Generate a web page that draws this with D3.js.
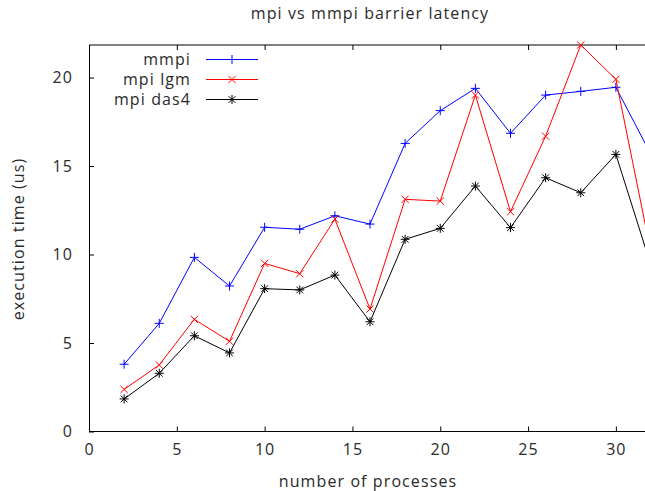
<!DOCTYPE html>
<html>
<head>
<meta charset="utf-8">
<script src="https://cdn.jsdelivr.net/npm/d3@7"></script>
<style>
  html, body { margin: 0; padding: 0; background: #fff; }
  svg { display: block; }
  text { font-family: "Open Sans", sans-serif; fill: #2a2a2a; letter-spacing: 1.1px; }
</style>
</head>
<body>
<svg id="chart" width="645" height="491"></svg>
<script>
// Process counts and barrier latencies (us)
const processes = [2, 4, 6, 8, 10, 12, 14, 16, 18, 20, 22, 24, 26, 28, 30, 32];
const mmpi    = [3.80, 6.11, 9.84, 8.22, 11.54, 11.43, 12.19, 11.72, 16.28, 18.13, 19.39, 16.85, 19.01, 19.22, 19.45, 15.65];
const mpiLgm  = [2.38, 3.76, 6.34, 5.10, 9.50, 8.92, 12.00, 6.92, 13.12, 13.02, 19.01, 12.42, 16.69, 21.84, 19.90, 10.10];
const mpiDas4 = [1.84, 3.29, 5.41, 4.44, 8.07, 8.00, 8.84, 6.20, 10.86, 11.48, 13.87, 11.52, 14.34, 13.49, 15.66, 9.37];
const xTicks = [0, 5, 10, 15, 20, 25, 30];
const yTicks = [0, 5, 10, 15, 20];

const series = [
  { name: "mmpi",     values: mmpi,    color: "#0000ff", marker: "plus" },
  { name: "mpi lgm",  values: mpiLgm,  color: "#ff0000", marker: "cross" },
  { name: "mpi das4", values: mpiDas4, color: "#000000", marker: "star" }
];

const FONT = "Open Sans, sans-serif";
const FS = "16px";

const svg = d3.select("#chart");
const plotLeft = 89, plotRight = 651, plotTop = 45, plotBottom = 431.5;

const x = d3.scaleLinear().domain([0, 32]).range([plotLeft, plotRight]);
const y = d3.scaleLinear().domain([0, d3.max(mpiLgm)]).range([plotBottom, plotTop]);

svg.append("defs").append("clipPath").attr("id", "plotClip")
  .append("rect").attr("x", plotLeft).attr("y", plotTop - 6)
  .attr("width", plotRight - plotLeft).attr("height", plotBottom - plotTop + 12);

// Axes: bottom and left with inward ticks, top border with mirrored ticks
const axisG = svg.append("g");
const xAxis = d3.axisBottom(x).tickValues(xTicks).tickSizeInner(-5).tickSizeOuter(0).tickPadding(12);
const gx = axisG.append("g").attr("transform", `translate(0,${plotBottom})`).call(xAxis);
const yAxis = d3.axisLeft(y).tickValues(yTicks).tickSizeInner(-5).tickSizeOuter(0).tickPadding(16);
const gy = axisG.append("g").attr("transform", `translate(${plotLeft},0)`).call(yAxis);
const xTop = d3.axisTop(x).tickValues(xTicks).tickSizeInner(-5).tickSizeOuter(0).tickFormat("");
const gt = axisG.append("g").attr("transform", `translate(0,${plotTop})`).call(xTop);

[gx, gy, gt].forEach(g => {
  g.select(".domain").attr("stroke", "#000").attr("stroke-width", 1);
  g.selectAll(".tick line").attr("stroke", "#000");
  g.selectAll(".tick text").style("font-size", FS).style("font-family", FONT).attr("fill", "#2a2a2a");
});
gx.select(".domain").attr("d", `M${plotLeft},0H645`);
gt.select(".domain").attr("d", `M${plotLeft},0H645`);

// Marker shapes
function markerPath(type, cx, cy, r) {
  const p = d3.path();
  if (type === "plus" || type === "star") {
    p.moveTo(cx - r, cy); p.lineTo(cx + r, cy);
    p.moveTo(cx, cy - r); p.lineTo(cx, cy + r);
  }
  if (type === "cross" || type === "star") {
    const d = type === "star" ? r * 0.75 : r * 0.8;
    p.moveTo(cx - d, cy - d); p.lineTo(cx + d, cy + d);
    p.moveTo(cx - d, cy + d); p.lineTo(cx + d, cy - d);
  }
  return p.toString();
}

const plot = svg.append("g").attr("clip-path", "url(#plotClip)");
const line = d3.line().x((d, i) => x(processes[i])).y(d => y(d));

series.forEach(s => {
  plot.append("path").attr("d", line(s.values))
    .attr("fill", "none").attr("stroke", s.color).attr("stroke-width", 1);
  plot.append("g").selectAll("path").data(s.values).join("path")
    .attr("d", (d, i) => markerPath(s.marker, x(processes[i]), y(d), 4.5))
    .attr("stroke", s.color).attr("stroke-width", 1).attr("fill", "none");
});

// Legend
const legend = svg.append("g");
series.forEach((s, i) => {
  const ly = 59.5 + i * 20;
  legend.append("text").attr("x", 191).attr("y", ly).attr("dy", "0.35em")
    .attr("text-anchor", "end").style("font-size", FS).text(s.name);
  legend.append("line").attr("x1", 206).attr("x2", 258).attr("y1", ly).attr("y2", ly)
    .attr("stroke", s.color).attr("stroke-width", 1);
  legend.append("path").attr("d", markerPath(s.marker, 232, ly, 4.5))
    .attr("stroke", s.color).attr("stroke-width", 1).attr("fill", "none");
});

// Titles
svg.append("text").attr("x", 370).attr("y", 19).attr("text-anchor", "middle")
  .style("font-size", FS).text("mpi vs mmpi barrier latency");
svg.append("text").attr("x", 368).attr("y", 487).attr("text-anchor", "middle")
  .style("font-size", FS).text("number of processes");
svg.append("text").attr("transform", "translate(24,239) rotate(-90)").attr("text-anchor", "middle")
  .style("font-size", FS).text("execution time (us)");
</script>
</body>
</html>
